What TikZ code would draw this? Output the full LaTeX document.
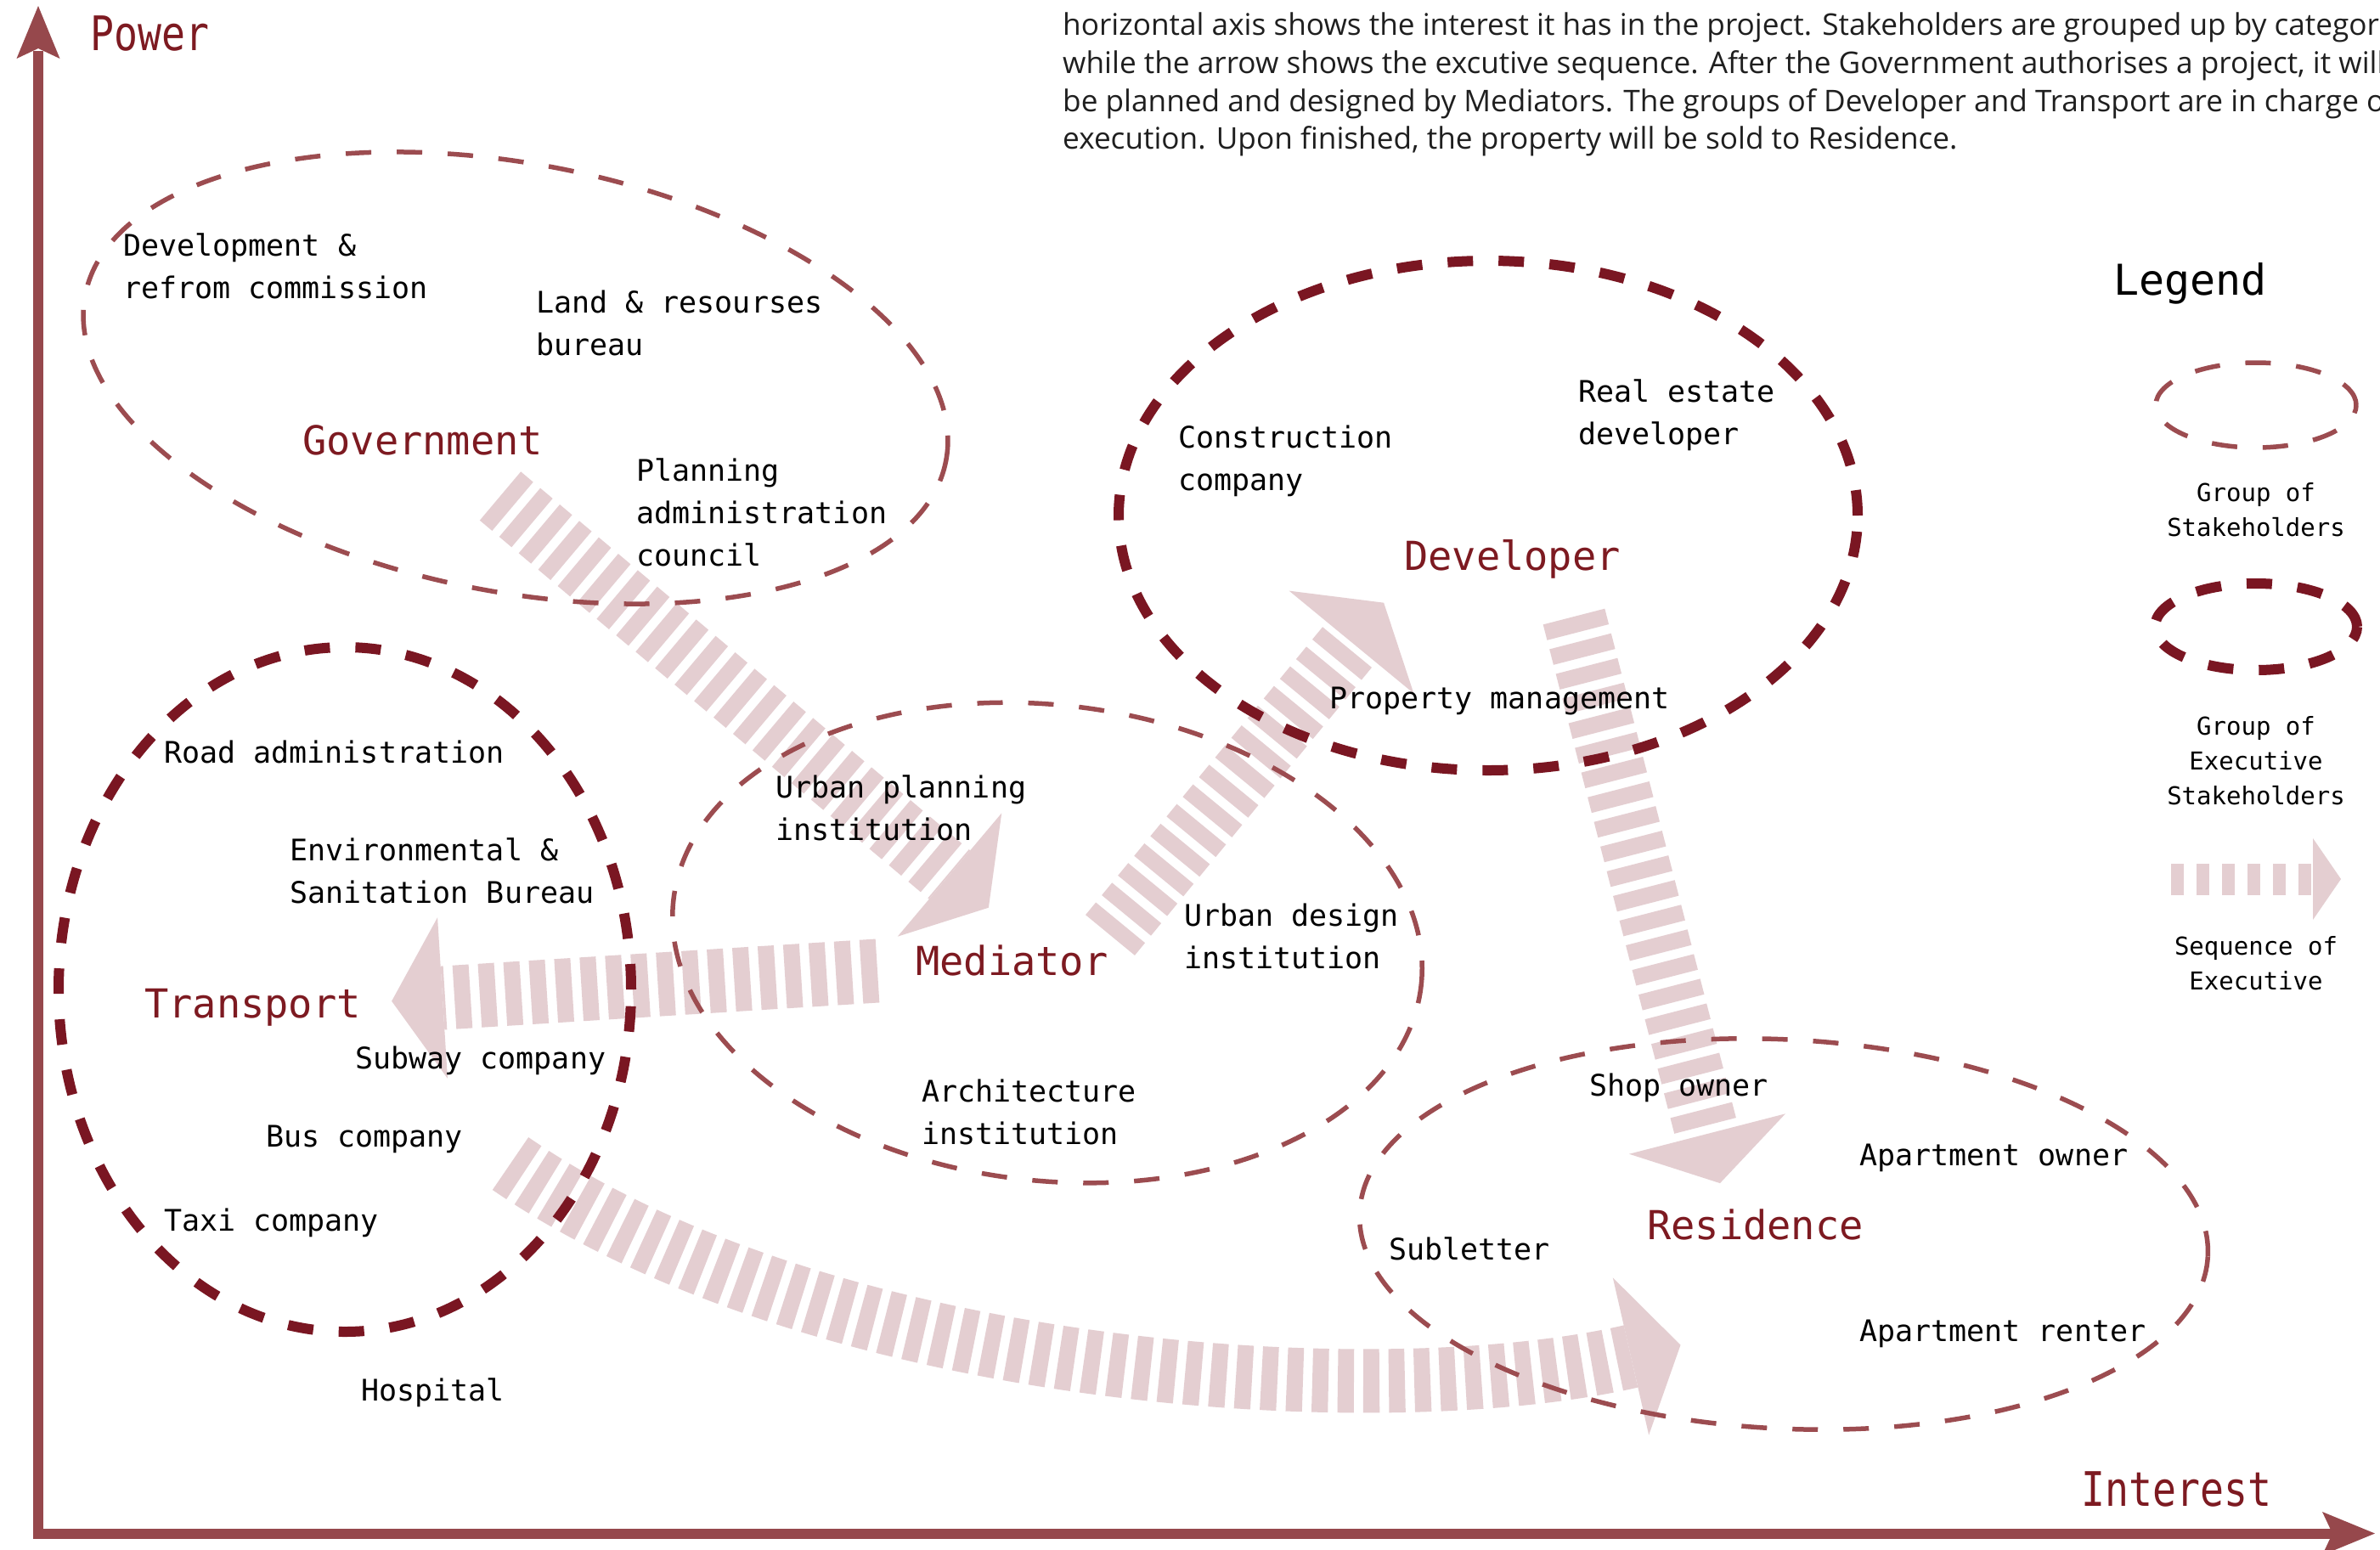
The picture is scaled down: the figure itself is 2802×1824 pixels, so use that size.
\documentclass[tikz,border=0pt]{standalone}
\usepackage{fontspec}
\setmainfont{DejaVu Sans Mono}
\newfontfamily\monof{DejaVu Sans Mono}
\newfontfamily\axisf[FakeStretch=0.83]{DejaVu Sans Mono}
\newfontfamily\parf{Open Sans}
\usetikzlibrary{calc,shapes.geometric}
\definecolor{axisred}{RGB}{150,72,76}
\definecolor{thinred}{RGB}{156,76,80}
\definecolor{thickred}{RGB}{122,22,34}
\definecolor{labred}{RGB}{125,26,33}
\definecolor{stripepink}{RGB}{228,206,209}
\begin{document}
\begin{tikzpicture}[x=1pt,y=-1pt,
  lbl/.style={font=\monof\fontsize{35pt}{50pt}\selectfont, align=left, anchor=north west, inner sep=0pt},
  grplbl/.style={font=\monof\fontsize{47pt}{56pt}\selectfont, text=labred, anchor=base west, inner sep=0pt},
  axislbl/.style={font=\axisf\fontsize{56pt}{64pt}\selectfont, text=labred, anchor=base west, inner sep=0pt},
  parline/.style={font=\parf\fontsize{35.2pt}{45pt}\selectfont, text=black!88, anchor=base west, inner sep=0pt},
  leghead/.style={font=\monof\fontsize{50pt}{60pt}\selectfont, anchor=base west, inner sep=0pt},
  leglbl/.style={font=\monof\fontsize{29pt}{41pt}\selectfont, align=center, anchor=north, inner sep=0pt},
  thingrp/.style={ellipse, draw=thinred, line width=5.5pt, dash pattern=on 30pt off 30pt, inner sep=0pt, outer sep=0pt},
  thickgrp/.style={ellipse, draw=thickred, line width=12pt, dash pattern=on 30pt off 30pt, inner sep=0pt, outer sep=0pt},
  seqline/.style={draw=stripepink, line width=75pt, dash pattern=on 19pt off 11pt},
  legseq/.style={draw=stripepink, line width=37pt, dash pattern=on 15pt off 15pt},
  seqhead/.style={fill=stripepink},
  axisline/.style={draw=axisred, line width=12pt},
  axishead/.style={fill=axisred},
]
\useasboundingbox (0,0) rectangle (2802,1824);
\fill[white] (0,0) rectangle (2802,1824);

% ---------- sequence arrows ----------
\coordinate (a1s) at (589,584);   \coordinate (a1m) at (1118,1030);
\coordinate (a2s) at (1033,1143); \coordinate (a2m) at (521,1175);
\coordinate (a3s) at (1307,1101); \coordinate (a3m) at (1591,756);
\coordinate (a4s) at (1853,726);  \coordinate (a4m) at (2010,1335);
\coordinate (a5s) at (601,1370);  \coordinate (a5c1) at (972,1625);
\coordinate (a5c2) at (1627,1664); \coordinate (a5m) at (1920,1597);

\draw[seqline] (a1s) -- (a1m);
\fill[seqhead] ($(a1m)!95pt!90:(a1s)$) -- ($(a1m)!-60pt!(a1s)$) -- ($(a1m)!95pt!-90:(a1s)$) -- cycle;
\draw[seqline] (a2s) -- (a2m);
\fill[seqhead] ($(a2m)!95pt!90:(a2s)$) -- ($(a2m)!-60pt!(a2s)$) -- ($(a2m)!95pt!-90:(a2s)$) -- cycle;
\draw[seqline] (a3s) -- (a3m);
\fill[seqhead] ($(a3m)!95pt!90:(a3s)$) -- ($(a3m)!-60pt!(a3s)$) -- ($(a3m)!95pt!-90:(a3s)$) -- cycle;
\draw[seqline] (a4s) -- (a4m);
\fill[seqhead] ($(a4m)!95pt!90:(a4s)$) -- ($(a4m)!-60pt!(a4s)$) -- ($(a4m)!95pt!-90:(a4s)$) -- cycle;
\draw[seqline] (a5s) .. controls (a5c1) and (a5c2) .. (a5m);
\fill[seqhead] ($(a5m)!95pt!90:(a5c2)$) -- ($(a5m)!-60pt!(a5c2)$) -- ($(a5m)!95pt!-90:(a5c2)$) -- cycle;

% ---------- groups ----------
\node[thingrp, minimum width=1032pt, minimum height=504pt, rotate=-10.9] (gov) at (607,445) {};
\node[thingrp, minimum width=886pt, minimum height=560pt, rotate=-6.6] (med) at (1233,1110) {};
\node[thingrp, minimum width=1000pt, minimum height=458pt, rotate=-3] (res) at (2100,1453) {};
\node[thickgrp, minimum width=674pt, minimum height=806pt] (trans) at (406,1165) {};
\node[thickgrp, minimum width=870pt, minimum height=600pt] (dev) at (1752,607) {};

% ---------- axes ----------
\coordinate (orig) at (45,1805.5);
\coordinate (ytop) at (45,60);
\coordinate (xend) at (2746,1805.5);
\draw[axisline] (45,1811.5) -- (ytop);
\draw[axisline] (39,1805.5) -- (xend);
\fill[axishead] (45,7) -- (19.5,69) -- (45,57) -- (70.5,69) -- cycle;
\fill[axishead] (2796,1805.5) -- (2734,1780) -- (2746,1805.5) -- (2734,1831) -- cycle;
\node[axislbl] (power) at (106,59) {Power};
\node[axislbl] (interest) at (2450,1773) {Interest};

% ---------- paragraph ----------
\node[parline] (p1) at (1251,41) {horizontal axis shows the interest it has in the project. Stakeholders are grouped up by categor};
\node[parline] (p2) at (1251,86) {while the arrow shows the excutive sequence. After the Government authorises a project, it will};
\node[parline] (p3) at (1251,131) {be planned and designed by Mediators. The groups of Developer and Transport are in charge o};
\node[parline] (p4) at (1251,175) {execution. Upon finished, the property will be sold to Residence.};

% ---------- group labels ----------
\node[grplbl] (govl) at (356,535) {Government};
\node[grplbl] (devl) at (1653,671) {Developer};
\node[grplbl] (transl) at (170,1198) {Transport};
\node[grplbl] (medl) at (1078,1148) {Mediator};
\node[grplbl] (resl) at (1939,1459) {Residence};

% ---------- stakeholder labels ----------
\node[lbl] (l1) at (145,266) {\strut Development \&\\refrom commission};
\node[lbl] (l2) at (631,333) {\strut Land \& resourses\\bureau};
\node[lbl] (l3) at (749,531) {\strut Planning\\administration\\council};
\node[lbl] (l4) at (1387,492) {\strut Construction\\company};
\node[lbl] (l5) at (1858,438) {\strut Real estate\\developer};
\node[lbl] (l6) at (1565,799) {\strut Property management};
\node[lbl] (l7) at (193,863) {\strut Road administration};
\node[lbl] (l8) at (341,978) {\strut Environmental \&\\Sanitation Bureau};
\node[lbl] (l9) at (418,1223) {\strut Subway company};
\node[lbl] (l10) at (313,1315) {\strut Bus company};
\node[lbl] (l11) at (193,1414) {\strut Taxi company};
\node[lbl] (l12) at (425,1614) {\strut Hospital};
\node[lbl] (l13) at (913,904) {\strut Urban planning\\institution};
\node[lbl] (l14) at (1394,1055) {\strut Urban design\\institution};
\node[lbl] (l15) at (1085,1262) {\strut Architecture\\institution};
\node[lbl] (l16) at (1871,1255) {\strut Shop owner};
\node[lbl] (l17) at (2189,1337) {\strut Apartment owner};
\node[lbl] (l18) at (1635,1448) {\strut Subletter};
\node[lbl] (l19) at (2189,1544) {\strut Apartment renter};

% ---------- legend ----------
\node[leghead] (leg) at (2488,347) {Legend};
\node[thingrp, minimum width=236pt, minimum height=100pt] (legthin) at (2656,477) {};
\node[leglbl] (legt1) at (2656,562) {\strut Group of\\Stakeholders};
\node[thickgrp, minimum width=238pt, minimum height=102pt] (legthick) at (2656,738) {};
\node[leglbl] (legt2) at (2656,837) {\strut Group of\\Executive\\Stakeholders};
\coordinate (ls) at (2556,1035); \coordinate (lm) at (2723,1035);
\draw[legseq] (ls) -- (lm);
\fill[seqhead] ($(lm)!48pt!90:(ls)$) -- ($(lm)!-33pt!(ls)$) -- ($(lm)!48pt!-90:(ls)$) -- cycle;
\node[leglbl] (legt3) at (2656,1096) {\strut Sequence of\\Executive};
\end{tikzpicture}
\end{document}
